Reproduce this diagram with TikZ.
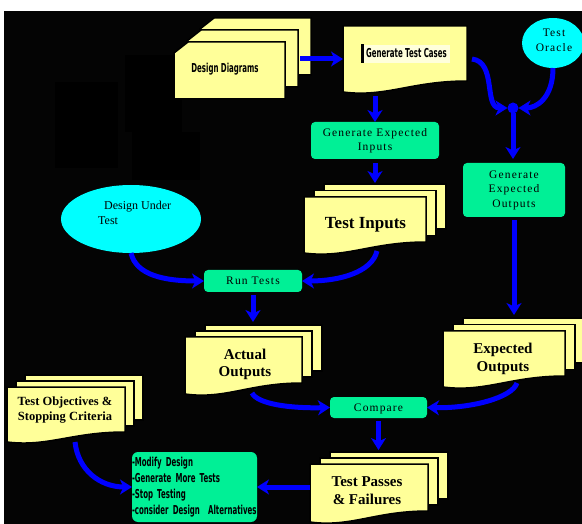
\documentclass[tikz,border=0pt]{standalone}
\usepackage{fontspec}
\setmainfont{Liberation Serif}
\newfontfamily\boxfont{Liberation Serif}[LetterSpace=10]
\newfontfamily\narrowfont{DejaVu Sans}[FakeStretch=0.57]
\usetikzlibrary{arrows.meta,shapes.geometric,calc}
\definecolor{pageyellow}{RGB}{255,255,153}
\definecolor{boxgreen}{RGB}{0,240,150}
\definecolor{arrowblue}{RGB}{0,0,255}
\definecolor{ovalcyan}{RGB}{0,255,255}
\definecolor{bgblack}{RGB}{4,4,4}
\tikzset{
 regionbox/.style n args={4}{rectangle, minimum width={(#3-#1)*1pt}, minimum height={(#4-#2)*1pt}, at={({(#1+#3)/2},{(#2+#4)/2})}, inner sep=0pt, outer sep=0pt},
 pagestyle/.style={fill=pageyellow, draw=black, line width=1.5pt, line join=miter},
 gbox/.style={fill=boxgreen, rounded corners=4pt, align=center, font=\boxfont\fontsize{11.5}{14.5}\selectfont},
 oval/.style={ellipse, fill=ovalcyan, inner sep=0pt, outer sep=0pt},
 flow/.style={draw=arrowblue, line width=5pt, -{Stealth[length=12pt,width=15pt,inset=3.5pt]}},
 doctitle/.style={font=\fontsize{15}{17}\selectfont\bfseries, align=center, inner sep=0pt},
 boxtext/.style={font=\boxfont\fontsize{11.5}{14.5}\selectfont, align=center, inner sep=0pt},
 narrowtext/.style={font=\narrowfont\fontsize{12.3}{16}\selectfont\bfseries, inner sep=0pt},
}
% front page of a document: name L T R B(left bottom) wave
\newcommand\docfront[6]{%
  \filldraw[pagestyle] (#2,#3) -- (#4,#3) -- (#4,#5-#6) .. controls ({#4-0.45*(#4-#2)},#5-#6) and ({#2+0.35*(#4-#2)},#5+0.5*#6) .. (#2,#5) -- cycle;
  \node[regionbox={#2}{#3}{#4}{#5}] (#1) {};}
% two pages behind: L T R B wave dx dy
\newcommand\docback[7]{%
  \foreach \k in {2,1}{\filldraw[pagestyle, shift={(\k*#6,-\k*#7)}] (#1,#2) rectangle (#3,#4-#5);}}
\begin{document}
\begin{tikzpicture}[x=1pt,y=-1pt]
\useasboundingbox (0,0) rectangle (582,524);
\fill[white] (0,0) rectangle (582,524);
\fill[bgblack] (4,11) rectangle (582,524);
\fill[black] (55,82) rectangle (118,168);
\fill[black] (125,55) rectangle (182,132);
\fill[black] (132,132) rectangle (200,180);

% Design Diagrams
\foreach \k in {2,1,0}{
  \filldraw[pagestyle, shift={(13*\k,-12*\k)}] (174,53) -- (188,42) -- (285,42) -- (285,99) -- (174,99) -- cycle;}
\node[regionbox={174}{42}{285}{99}] (dd) {};
\node[narrowtext, anchor=base] (ddt) at (225,72.5) {Design Diagrams};

% Generate Test Cases
\docfront{gtc}{343}{26}{467}{92}{11}
\fill[pageyellow!35!white] (363,45) rectangle (450,63);
\fill[black] (361,44) rectangle (363.5,63);
\node[narrowtext, anchor=base] (gtct) at (406.5,57.7) {Generate Test Cases};

% Test Oracle
\node[oval, minimum width=62pt, minimum height=50pt] (oracle) at (553,43) {};
\node[boxtext] (oraclet) at (554,40.4) {Test\\Oracle};

% Generate Expected Inputs
\node[gbox, regionbox={311}{122}{439}{159}] (gei) {Generate Expected\\Inputs};

% Test Inputs
\docback{304}{197}{426}{253}{11}{10}{6.5}
\docfront{ti}{304}{197}{426}{253}{11}
\node[doctitle, font=\fontsize{17}{19}\selectfont\bfseries, anchor=base] (tit) at (365.5,229) {Test Inputs};

% Generate Expected Outputs
\node[gbox, regionbox={463}{163}{565}{217}] (geo) {Generate\\Expected\\Outputs};

% Design Under Test
\node[oval, minimum width=140pt, minimum height=68pt] (dut) at (131,219) {};
\node[font=\fontsize{12}{15}\selectfont, align=left, inner sep=0pt, anchor=west] (dutt) at (98,212.4) {\hspace*{6pt}Design Under\\Test};

% Run Tests
\node[gbox, regionbox={204}{270}{302}{292}] (rt) {Run Tests};

% Actual Outputs
\docback{185}{337}{302}{394}{11}{10}{6}
\docfront{ao}{185}{337}{302}{394}{11}
\node[doctitle] (aot) at (245,364) {Actual\\Outputs};

% Expected Outputs
\docback{443}{331}{565}{387}{11}{10}{6.5}
\docfront{eo}{443}{331}{565}{387}{11}
\node[doctitle, font=\fontsize{15}{18}\selectfont\bfseries] (eot) at (503,358.5) {Expected\\Outputs};

% Compare
\node[gbox, regionbox={330}{397}{427}{418}, text depth=0pt] (cmp) {Compare};

% Test Passes & Failures
\docback{310}{464}{428}{522}{11}{10}{6}
\docfront{tpf}{310}{464}{428}{522}{11}
\node[doctitle, font=\fontsize{15}{18}\selectfont\bfseries] (tpft) at (367,491) {Test Passes\\\& Failures};

% Test Objectives
\docback{7}{387}{125}{442}{10}{9}{6}
\docfront{tos}{7}{387}{125}{442}{10}
\node[doctitle, font=\fontsize{12.5}{15}\selectfont\bfseries] (tost) at (65,409.6) {Test Objectives \&\\Stopping Criteria};

% Actions
\node[gbox, rounded corners=6pt, regionbox={132}{452}{257}{522}, narrowtext, text width=125pt, align=left] (mod) {-Modify Design\\-Generate More Tests\\-Stop Testing\\-consider Design~ Alternatives};

% junction
\node[circle, fill=arrowblue, minimum size=11pt, inner sep=0pt, outer sep=0pt] (junction) at (513,108) {};

% connectors
\draw[flow] ([xshift=15pt]dd.east |- gtc.west) -- (gtc.west);
\draw[flow] ([yshift=-4pt]gtc.south -| gei.north) -- (gei.north);
\draw[flow] ([yshift=-4pt]gei.south) -- ([yshift=14pt]ti.north -| gei.south);
\draw[flow] ([xshift=5pt]gtc.east) .. controls ($(gtc.east)+(30,3)$) and ($(junction.west)+(-24,0)$) .. (junction.west);
\draw[flow] (oracle.south) .. controls ($(oracle.south)+(0,30)$) and ($(junction.east)+(18,0)$) .. (junction.east);
\draw[flow, shorten >=4pt] (junction.south) -- (junction.south |- geo.north);
\draw[flow] ([yshift=-3pt]geo.south) -- ([yshift=16pt]eo.north -| geo.south);
\draw[flow] (dut.south) .. controls ($(dut.south)+(5,22)$) and ($(rt.west)+(-40,0)$) .. (rt.west);
\draw[flow] ($(ti.south)+(12,-2)$) .. controls ($(ti.south)+(7,19)$) and ($(rt.east)+(38,0)$) .. (rt.east);
\draw[flow] ([yshift=-3pt]rt.south) -- ([yshift=15pt]ao.north -| rt.south);
\draw[flow] ($(ao.south)+(8.5,-1)$) .. controls ($(ao.south)+(14,10)$) and ($(cmp.west)+(-40,1)$) .. (cmp.west);
\draw[flow] ($(eo.south)+(13,-4)$) .. controls ($(eo.south)+(8,11)$) and ($(cmp.east)+(43,1)$) .. (cmp.east);
\draw[flow] ([yshift=-3pt]cmp.south) -- ([yshift=14pt]tpf.north -| cmp.south);
\draw[flow] (tpf.west |- mod.east) -- (mod.east);
\draw[flow] ($(tos.south)+(9,0)$) .. controls ($(tos.south)+(12,28)$) and ($(mod.west)+(-32,0)$) .. (mod.west);
\end{tikzpicture}
\end{document}
